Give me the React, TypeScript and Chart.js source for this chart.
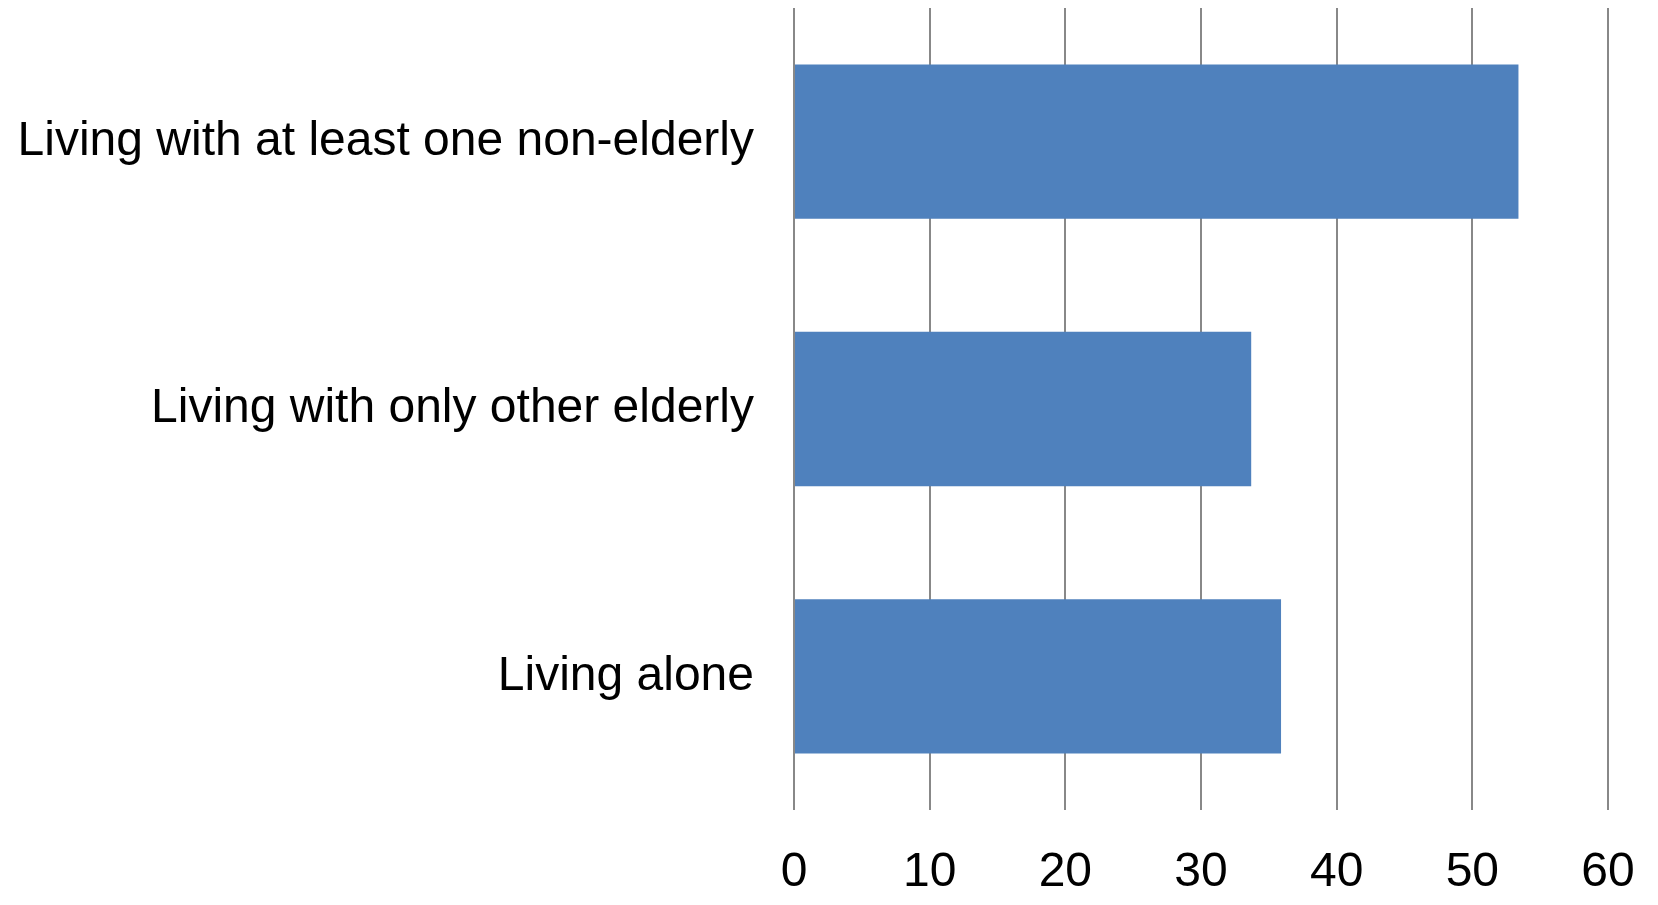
import React, { useEffect, useRef } from "react";
import { Chart, registerables } from "chart.js";

Chart.register(...registerables);

const categories = [
  "Living with at least one non-elderly",
  "Living with only other elderly",
  "Living alone",
];
const values = [53.4, 33.7, 35.9];
const xTicks = [0, 10, 20, 30, 40, 50, 60];

export default function App() {
  const ref = useRef<HTMLCanvasElement | null>(null);

  useEffect(() => {
    document.body.style.margin = "0";
    const canvas = ref.current;
    if (!canvas) return;
    const chart = new Chart(canvas, {
      type: "bar",
      data: {
        labels: categories,
        datasets: [
          {
            data: values,
            backgroundColor: "#4F81BD",
            borderWidth: 0,
            barPercentage: 0.577,
            categoryPercentage: 1,
          },
        ],
      },
      options: {
        indexAxis: "y",
        responsive: false,
        animation: false,
        devicePixelRatio: 1,
        layout: { padding: { top: 8, right: 50, left: 0, bottom: 0 } },
        plugins: { legend: { display: false }, tooltip: { enabled: false } },
        scales: {
          x: {
            min: 0,
            max: 60,
            afterBuildTicks: (scale: any) => {
              scale.ticks = xTicks.map((v) => ({ value: v }));
            },
            afterFit: (scale: any) => {
              scale.height = 95;
              scale.paddingLeft = 0;
              scale.paddingRight = 0;
            },
            grid: { color: "#888888", lineWidth: 2, drawTicks: false },
            border: { display: false },
            ticks: {
              color: "#000000",
              padding: 34,
              font: { family: "'Liberation Sans', Arial, sans-serif", size: 48 },
            },
          },
          y: {
            afterFit: (scale: any) => {
              scale.width = 794;
              scale.paddingTop = 0;
              scale.paddingBottom = 0;
            },
            grid: { display: false, drawTicks: false },
            border: { display: false },
            ticks: {
              color: "#000000",
              padding: 40,
              font: { family: "'Liberation Sans', Arial, sans-serif", size: 48 },
            },
          },
        },
      },
    });
    return () => chart.destroy();
  }, []);

  return <canvas ref={ref} width={1658} height={905} style={{ display: "block" }} />;
}
